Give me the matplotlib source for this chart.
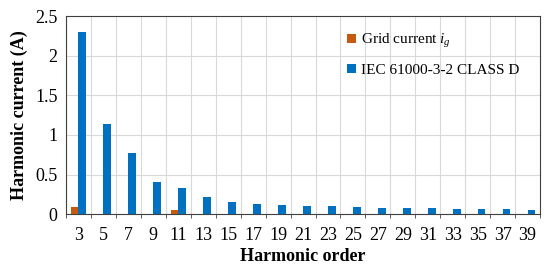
import matplotlib
matplotlib.use("Agg")
import matplotlib.pyplot as plt
import numpy as np
from matplotlib.ticker import FixedLocator

orders = [3, 5, 7, 9, 11, 13, 15, 17, 19, 21, 23, 25, 27, 29, 31, 33, 35, 37, 39]
grid_current = [0.09, 0.004, 0.004, 0.004, 0.05, 0.004, 0.004, 0.004, 0.004, 0.003,
                0.003, 0.003, 0.003, 0.003, 0.003, 0.003, 0.003, 0.003, 0.003]
iec_limit = [2.30, 1.14, 0.77, 0.40, 0.33, 0.21, 0.15, 0.132, 0.118, 0.107,
             0.098, 0.090, 0.083, 0.078, 0.073, 0.068, 0.064, 0.061, 0.058]
y_ticks = [0, 0.5, 1, 1.5, 2, 2.5]
y_tick_labels = ['0', '0.5', '1', '1.5', '2', '2.5']

plt.rcParams['font.family'] = ['Liberation Serif', 'DejaVu Serif']
plt.rcParams['mathtext.fontset'] = 'custom'
plt.rcParams['mathtext.it'] = 'Liberation Serif:italic'
plt.rcParams['mathtext.rm'] = 'Liberation Serif'

fig = plt.figure(figsize=(5.5, 2.71), dpi=100)
ax = fig.add_axes([0.12, 0.21, 0.862, 0.73])

x = np.arange(len(orders))
w = 0.31
ax.bar(x - w / 2, grid_current, width=w, color='#C55A11', label='Grid current $i_g$', zorder=3)
ax.bar(x + w / 2, iec_limit, width=w, color='#0070C0', label='IEC 61000-3-2 CLASS D', zorder=3)

ax.set_xlim(-0.5, len(orders) - 0.5)
ax.set_ylim(0, 2.5)
ax.set_yticks(y_ticks)
ax.set_yticklabels(y_tick_labels)
ax.set_xticks(x)
ax.set_xticklabels([str(o) for o in orders])
ax.xaxis.set_minor_locator(FixedLocator(np.arange(-0.5, len(orders), 1.0)))
ax.tick_params(axis='x', which='major', length=0, labelsize=13, pad=9)
ax.tick_params(axis='x', which='minor', length=3, direction='out', color='#404040')
ax.tick_params(axis='y', which='major', length=0, labelsize=13, pad=6)

ax.grid(True, axis='y', which='major', color='#D9D9D9', linewidth=0.8, zorder=0)
ax.grid(True, axis='x', which='minor', color='#D9D9D9', linewidth=0.8, zorder=0)
ax.grid(False, axis='x', which='major')

for s in ['top', 'right', 'left', 'bottom']:
    ax.spines[s].set_color('#404040')
    ax.spines[s].set_linewidth(0.8)

ax.set_xlabel('Harmonic order', fontsize=13, fontweight='bold', labelpad=3)
ax.set_ylabel('Harmonic current (A)', fontsize=13, fontweight='bold', labelpad=5)

leg = ax.legend(loc='upper right', bbox_to_anchor=(0.985, 0.99), frameon=False, fontsize=11,
                handlelength=0.6, handleheight=0.6, handletextpad=0.3, labelspacing=0.9)

fig.savefig('out.png', dpi=100)
